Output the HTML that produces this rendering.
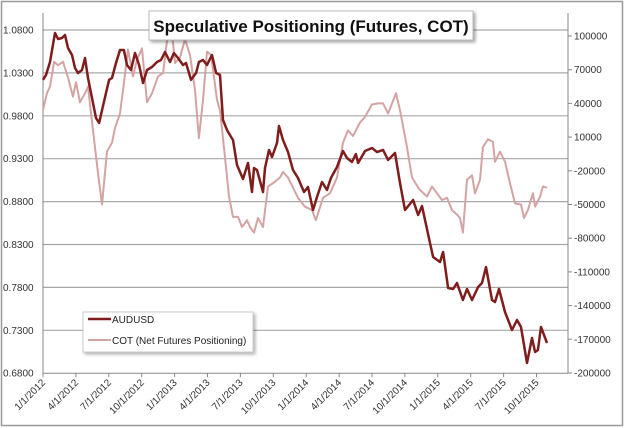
<!DOCTYPE html>
<html><head><meta charset="utf-8"><style>
body{margin:0;background:#fff;}
svg{display:block;font-family:"Liberation Sans",sans-serif;}
</style></head><body>
<svg id="chart" width="624" height="428" viewBox="0 0 624 428">
<rect x="1.5" y="1.5" width="621" height="424" fill="#fff" stroke="#9a9a9a" stroke-width="1.5"/>
<g id="grid"></g>
<g id="axes"></g>
<g id="series"></g>
<g>
<rect x="149" y="11" width="324" height="29" fill="#fff" stroke="#bbb" stroke-width="1" style="filter:drop-shadow(2px 2px 1.5px rgba(0,0,0,0.35))"/>
<text x="311" y="32" text-anchor="middle" font-size="17" font-weight="bold" fill="#111">Speculative Positioning (Futures, COT)</text>
</g>
<g>
<rect x="83" y="312" width="170" height="40" fill="#fff" stroke="#ccc" style="filter:drop-shadow(2px 2px 1.5px rgba(0,0,0,0.3))"/>
<line x1="88" y1="319" x2="111" y2="319" stroke="#7f1d1d" stroke-width="2.5"/>
<text x="112" y="323" font-size="10" fill="#222">AUDUSD</text>
<line x1="88" y1="340" x2="111" y2="340" stroke="#d4a3a3" stroke-width="2"/>
<text x="112" y="344" font-size="10" fill="#222">COT (Net Futures Positioning)</text>
</g>
</svg>
<script>
const leftTicks=[1.08,1.03,0.98,0.93,0.88,0.83,0.78,0.73,0.68];
const rightTicks=[100000,70000,40000,10000,-20000,-50000,-80000,-110000,-140000,-170000,-200000];
const xTickLabels=["1/1/2012","4/1/2012","7/1/2012","10/1/2012","1/1/2013","4/1/2013","7/1/2013","10/1/2013","1/1/2014","4/1/2014","7/1/2014","10/1/2014","1/1/2015","4/1/2015","7/1/2015","10/1/2015"];
const audT=[0,.023,.053,.091,.114,.144,.167,.19,.22,.243,.266,.296,.319,.342,.38,.403,.426,.456,.479,.502,.524,.555,.585,.615,.638,.669,.699,.73,.76,.79,.828,.866,.897,.927,.965,.995,1.026,1.064,1.087,1.125,1.163,1.185,1.216,1.246,1.284,1.315,1.345,1.368,1.398,1.429,1.444,1.474,1.52,1.558,1.588,1.603,1.626,1.672,1.687,1.717,1.74,1.778,1.793,1.824,1.862,1.9,1.938,1.983,2.014,2.052,2.082,2.12,2.158,2.188,2.234,2.28,2.31,2.348,2.378,2.394,2.447,2.5,2.538,2.584,2.622,2.675,2.713,2.751,2.812,2.85,2.88,2.941,2.964,3.017,3.04,3.078,3.116,3.146,3.191,3.222,3.26,3.306,3.336,3.366,3.412,3.435,3.465,3.511,3.564,3.602,3.632,3.678,3.716,3.739,3.761,3.784,3.83];
const audVals=[1.022,1.0276,1.0427,1.0765,1.0695,1.0707,1.0742,1.059,1.0509,1.0357,1.0299,1.0334,1.0474,1.024,0.9949,0.9774,0.9716,0.9914,1.0066,1.022,1.024,1.0415,1.0567,1.0567,1.0392,1.0334,1.0532,1.0392,1.0182,1.0334,1.0369,1.0427,1.045,1.0544,1.0427,1.0532,1.0474,1.0392,1.0415,1.022,1.0299,1.0427,1.045,1.0392,1.0509,1.0299,1.0276,0.9751,0.9635,0.9553,0.9518,0.9227,0.9063,0.925,0.8912,0.9192,0.9168,0.8912,0.9192,0.9401,0.932,0.9483,0.9681,0.9518,0.9378,0.9168,0.9075,0.8912,0.897,0.8702,0.8854,0.9028,0.8935,0.9075,0.9203,0.939,0.9308,0.9262,0.9355,0.925,0.939,0.9425,0.9378,0.9401,0.9285,0.9366,0.9017,0.8702,0.8819,0.8644,0.8749,0.8317,0.8154,0.8096,0.8213,0.7793,0.7781,0.7851,0.7653,0.7781,0.7653,0.7805,0.7851,0.8038,0.7653,0.763,0.7781,0.7513,0.7303,0.742,0.7338,0.6919,0.721,0.7047,0.707,0.7338,0.7152];
const cotT=[0,.030,.053,.084,.114,.152,.19,.228,.251,.281,.319,.342,.38,.418,.448,.486,.524,.547,.585,.615,.646,.684,.714,.752,.79,.828,.874,.912,.95,.98,1.003,1.041,1.079,1.117,1.155,1.185,1.216,1.246,1.277,1.322,1.345,1.383,1.413,1.444,1.482,1.512,1.55,1.573,1.603,1.634,1.672,1.71,1.748,1.801,1.824,1.862,1.9,1.938,1.991,2.044,2.074,2.128,2.181,2.234,2.28,2.318,2.356,2.409,2.447,2.5,2.546,2.584,2.622,2.682,2.713,2.766,2.804,2.857,2.918,2.956,2.994,3.032,3.07,3.108,3.146,3.169,3.191,3.222,3.26,3.283,3.321,3.343,3.381,3.419,3.435,3.473,3.511,3.549,3.587,3.632,3.655,3.685,3.723,3.739,3.777,3.799,3.83];
const cotVals=[34000,49000,55000,77000,74000,77000,63000,46000,59000,41000,49000,55000,16000,-22000,-50000,-3000,5000,18000,31000,58000,88000,64000,79000,89000,41000,49000,64000,67000,103000,103000,76000,81000,97000,83000,52000,9000,43000,86000,83000,43000,34000,-8000,-43000,-61000,-61000,-70000,-64000,-70000,-75000,-62000,-70000,-34000,-31000,-26000,-21000,-26000,-35000,-44000,-52000,-55000,-64000,-44000,-40000,-26000,5000,16000,11000,23000,28000,39000,40000,40000,31000,49000,34000,1000,-26000,-36000,-43000,-34000,-40000,-46000,-44000,-55000,-59000,-62000,-75000,-28000,-24000,-40000,-28000,1000,8000,6000,-12000,-3000,-12000,-31000,-49000,-50000,-62000,-55000,-40000,-52000,-43000,-34000,-35000];

const X0=43,X1=568;
const xScale=t=>X0+t*131.6;
const yLeft=v=>30+(1.08-v)*858;
const yRight=c=>36+(100000-c)/890.2;
const NS="http://www.w3.org/2000/svg";
function mk(tag,parent,attrs){const e=document.createElementNS(NS,tag);for(const k in attrs)e.setAttribute(k,attrs[k]);parent.appendChild(e);return e;}
const grid=document.getElementById('grid'),axes=document.getElementById('axes'),series=document.getElementById('series');

leftTicks.forEach((v,i)=>{
  const y=yLeft(v);
  if(i<leftTicks.length-1){const g=mk('line',grid,{x1:X0,x2:X1,y1:y,y2:y,stroke:'#a8a8a8','stroke-width':1.2});
  
  }
  const t=mk('text',axes,{x:3,y:y+3.5,'font-size':10,fill:'#333'});
  t.textContent=v.toFixed(4);
  
  
});
rightTicks.forEach(c=>{
  const y=yRight(c);
  mk('line',axes,{x1:X1,x2:X1+4,y1:y,y2:y,stroke:'#888'});
  const t=mk('text',axes,{x:X1+6,y:y+3.5,'font-size':10,fill:'#333'});
  t.textContent=c;
  
  
});
const yb=yLeft(0.68);
mk('line',axes,{x1:X0,x2:X0,y1:13,y2:yb,stroke:'#888'});
mk('line',axes,{x1:X1,x2:X1,y1:13,y2:yb,stroke:'#888'});
mk('line',axes,{x1:X0,x2:X1,y1:yb,y2:yb,stroke:'#888'});
xTickLabels.forEach((lab,i)=>{
  const x=xScale(i*0.25);
  mk('line',axes,{x1:x,x2:x,y1:yb,y2:yb+4,stroke:'#888'});
  const t=mk('text',axes,{x:x+3,y:yb+10,'font-size':10,fill:'#333','text-anchor':'end',transform:`rotate(-45 ${x+3} ${yb+10})`});
  t.textContent=lab;
  
  
});
const cotPath=mk('path',series,{d:cotT.map((t,i)=>(i?'L':'M')+xScale(t).toFixed(1)+' '+yRight(cotVals[i]).toFixed(1)).join(''),fill:'none',stroke:'#d4a3a3','stroke-width':2,'stroke-linejoin':'round'});


const audPath=mk('path',series,{d:audT.map((t,i)=>(i?'L':'M')+xScale(t).toFixed(1)+' '+yLeft(audVals[i]).toFixed(1)).join(''),fill:'none',stroke:'#7f1d1d','stroke-width':2.5,'stroke-linejoin':'round'});


</script>
</body></html>
